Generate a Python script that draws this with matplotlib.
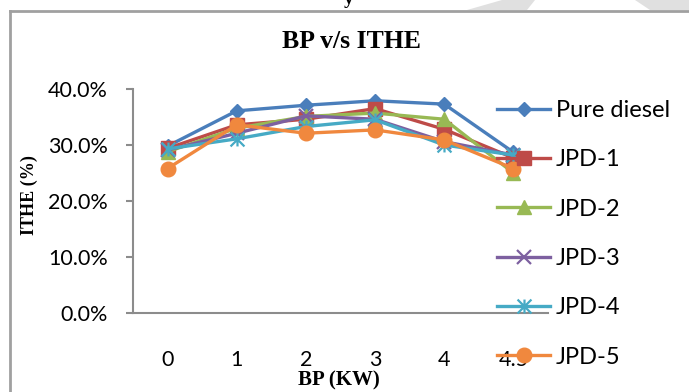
import numpy as np
import matplotlib
matplotlib.use('Agg')
import matplotlib.pyplot as plt
from matplotlib.path import Path
from matplotlib.lines import Line2D
from matplotlib.patches import Polygon

# data
bp_labels = ['0', '1', '2', '3', '4', '4.5']
pure_diesel = [29.8, 36.1, 37.1, 37.9, 37.3, 28.7]
jpd1 = [29.4, 33.6, 34.6, 36.5, 32.8, 27.7]
jpd2 = [28.8, 33.0, 35.1, 35.7, 34.6, 25.0]
jpd3 = [29.1, 32.1, 35.2, 34.6, 30.6, 28.2]
jpd4 = [29.3, 31.1, 33.3, 34.5, 30.0, 28.2]
jpd5 = [25.8, 33.6, 32.1, 32.7, 30.9, 25.8]
series_names = ['Pure diesel', 'JPD-1', 'JPD-2', 'JPD-3', 'JPD-4', 'JPD-5']

W, H = 689, 392
fig = plt.figure(figsize=(W / 100, H / 100), dpi=100)

def px(x, y):
    return (x / W, 1 - y / H)

# excel "star" marker: x with a vertical bar
star = Path([(-1, -1), (1, 1), (-1, 1), (1, -1), (0, -1), (0, 1)],
            [Path.MOVETO, Path.LINETO, Path.MOVETO, Path.LINETO, Path.MOVETO, Path.LINETO])

styles = [
    dict(color='#4A7EBB', marker='D', ms=7.5),
    dict(color='#BE4B48', marker='s', ms=9.5),
    dict(color='#98B954', marker='^', ms=10),
    dict(color='#7D60A0', marker='x', ms=10, mew=1.6),
    dict(color='#46AAC5', marker=star, ms=10, mew=1.6),
    dict(color='#F0883E', marker='o', ms=10.5),
]

ax = fig.add_axes([133 / W, 1 - 313 / H, 415 / W, 224 / H])
x = np.arange(len(bp_labels))
all_series = [pure_diesel, jpd1, jpd2, jpd3, jpd4, jpd5]
for vals, name, st in zip(all_series, series_names, styles):
    ax.plot(x, np.array(vals) / 100, lw=2.4, label=name, clip_on=False, **st)

ax.set_xlim(-0.5, 5.5)
ax.set_ylim(0, 0.4)
ax.set_yticks([0, 0.1, 0.2, 0.3, 0.4])
ax.set_yticklabels(['0.0%', '10.0%', '20.0%', '30.0%', '40.0%'])
ax.set_xticks(x)
ax.set_xticklabels(bp_labels)
for s in ['top', 'right']:
    ax.spines[s].set_visible(False)
for s in ['left', 'bottom']:
    ax.spines[s].set_color('#8c8c8c')
    ax.spines[s].set_linewidth(1.5)
ax.tick_params(axis='y', length=5, width=1.5, color='#8c8c8c', pad=13, labelsize=15.5)
ax.tick_params(axis='x', length=0, pad=27, labelsize=15.5)
for lab in ax.get_xticklabels() + ax.get_yticklabels():
    lab.set_fontfamily('Lato')

leg = fig.legend(loc='upper left', bbox_to_anchor=px(497, 100), frameon=False,
                 handlelength=2.25, handletextpad=0.25, labelspacing=1.2,
                 borderpad=0, borderaxespad=0, prop={'family': 'Lato', 'size': 17})

# text
fig.text(*px(352, 41), 'BP v/s ITHE', ha='center', va='center',
         family='Liberation Serif', weight='bold', size=18.5)
fig.text(*px(339, 380), 'BP (KW)', ha='center', va='center',
         family='Liberation Serif', weight='bold', size=15)
fig.text(*px(29, 195), 'ITHE (%)', ha='center', va='center', rotation=90,
         family='Liberation Serif', weight='bold', size=13)
fig.text(*px(349, 4), 'y', ha='center', va='baseline',
         family='Liberation Serif', weight='bold', size=14)

# chart frame
fig.add_artist(Line2D([9.5 / W, 9.5 / W], [0, 1 - 10.5 / H], color='#a0a0a0', lw=2))
fig.add_artist(Line2D([9.5 / W, 1], [1 - 10.5 / H, 1 - 10.5 / H], color='#a0a0a0', lw=2))

# faint watermark pieces along the top edge
for pts in [[(467, 10), (502, 0), (535, 0), (527, 10)],
            [(635, 0), (689, 0), (689, 10), (650, 10)]]:
    fig.add_artist(Polygon([px(a, b) for a, b in pts], closed=True,
                           facecolor='#e0e0e0', edgecolor='none', zorder=0))

fig.savefig('out.png', dpi=100)
